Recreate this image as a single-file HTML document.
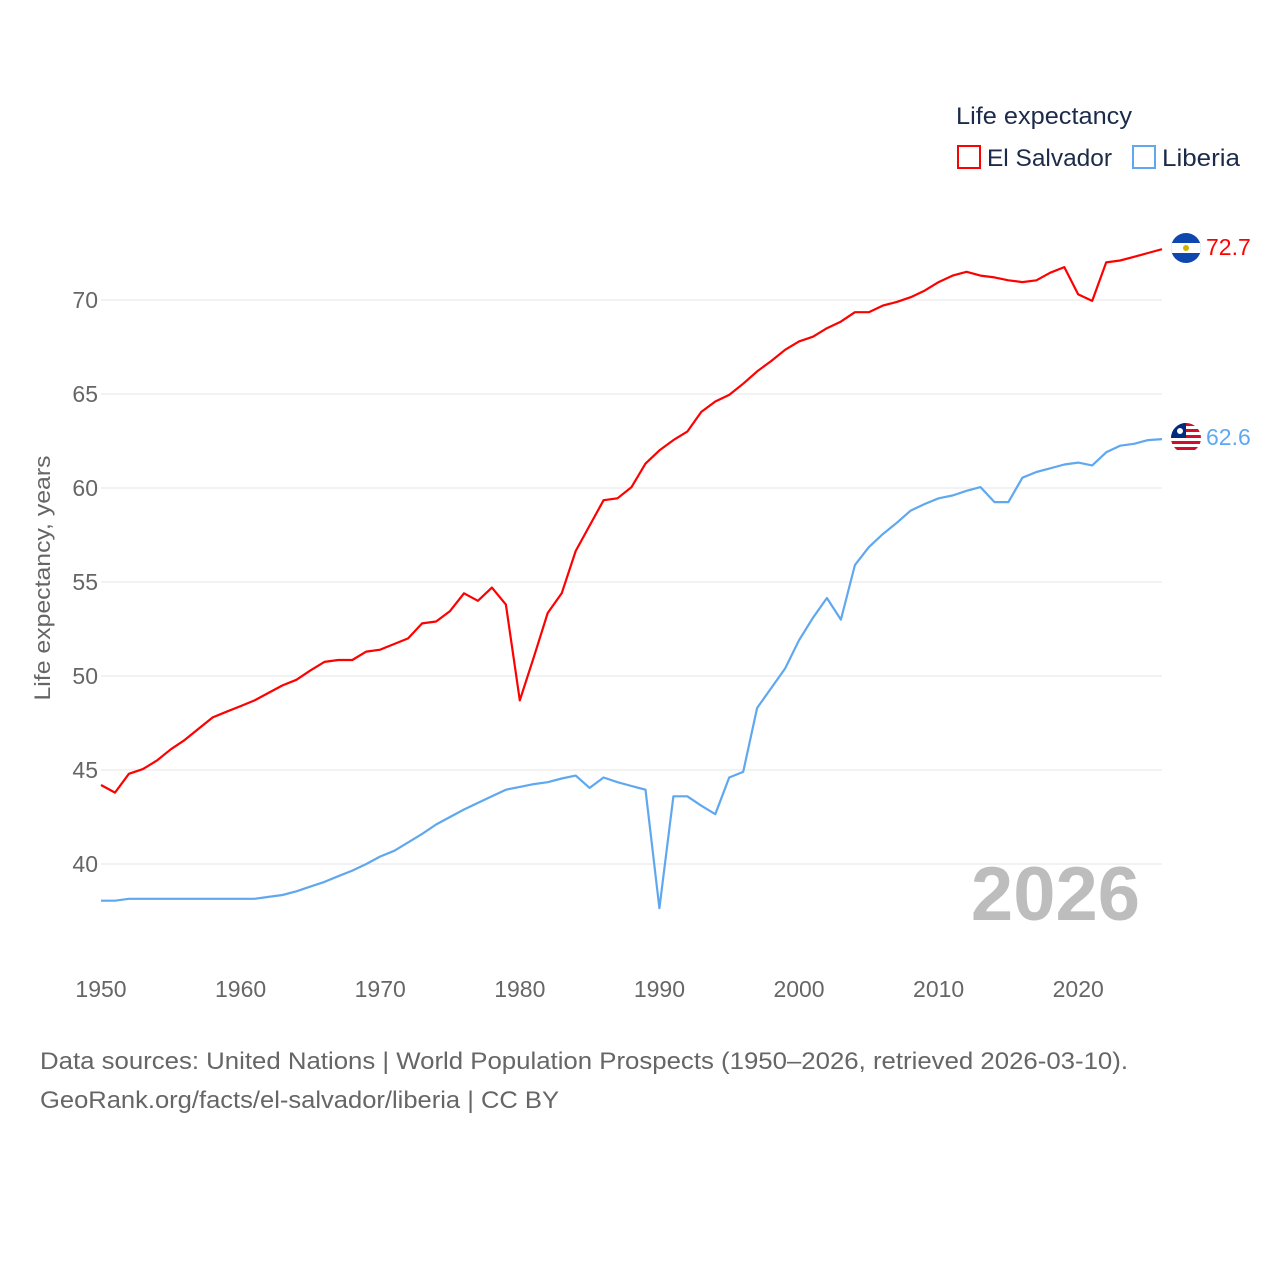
<!DOCTYPE html>
<html><head><meta charset="utf-8"><style>
body{margin:0;background:#fff;font-family:"Liberation Sans",sans-serif;}
svg text{font-family:"Liberation Sans",sans-serif;}
</style></head><body>
<svg id="chart" width="1280" height="1280" viewBox="0 0 1280 1280" xmlns="http://www.w3.org/2000/svg">
<rect width="1280" height="1280" fill="#fff"/>
<g id="grid"></g>
<g id="yticks"></g>
<g id="xticks"></g>
<text x="50" y="578" transform="rotate(-90 50 578)" text-anchor="middle" font-size="22" fill="#666" textLength="245" lengthAdjust="spacingAndGlyphs">Life expectancy, years</text>
<text x="1140" y="920" text-anchor="end" font-size="76" font-weight="bold" fill="#bdbdbd">2026</text>
<g id="series"></g>
<g>
<text x="956" y="124" font-size="24" fill="#1d2b4a" textLength="176" lengthAdjust="spacingAndGlyphs">Life expectancy</text>
<g><rect x="958" y="146" width="22" height="22" fill="none" stroke="#ff0000" stroke-width="2"/><text x="987" y="166" font-size="24" fill="#1d2b4a" textLength="125" lengthAdjust="spacingAndGlyphs">El Salvador</text></g>
<g><rect x="1133" y="146" width="22" height="22" fill="none" stroke="#5fa8ef" stroke-width="2"/><text x="1162" y="166" font-size="24" fill="#1d2b4a" textLength="78" lengthAdjust="spacingAndGlyphs">Liberia</text></g>
</g>
<g>
<clipPath id="c1"><circle cx="1186" cy="248" r="15"/></clipPath>
<g clip-path="url(#c1)"><rect x="1170" y="232" width="32" height="32" fill="#0f47af"/><rect x="1170" y="243" width="32" height="10" fill="#fff"/><circle cx="1186" cy="248" r="3" fill="#d4b000"/></g>
</g>
<text x="1206" y="255" font-size="23" fill="#ff0000">72.7</text>
<g>
<clipPath id="c2"><circle cx="1186" cy="438" r="15"/></clipPath>
<g clip-path="url(#c2)"><rect x="1170" y="422" width="32" height="32" fill="#fff"/>
<rect x="1170" y="423" width="32" height="3" fill="#d0102a"/><rect x="1170" y="429" width="32" height="3" fill="#d0102a"/><rect x="1170" y="435" width="32" height="3" fill="#d0102a"/><rect x="1170" y="441" width="32" height="3" fill="#d0102a"/><rect x="1170" y="447" width="32" height="3" fill="#d0102a"/><rect x="1170" y="453" width="32" height="3" fill="#d0102a"/>
<rect x="1170" y="422" width="16" height="16" fill="#002b7f"/><circle cx="1180" cy="431" r="3" fill="#fff"/></g>
</g>
<text x="1206" y="445" font-size="23" fill="#5fa8ef">62.6</text>
<text x="40" y="1069" font-size="24" fill="#666" textLength="1088" lengthAdjust="spacingAndGlyphs">Data sources: United Nations | World Population Prospects (1950–2026, retrieved 2026-03-10).</text>
<text x="40" y="1108" font-size="24" fill="#666" textLength="519" lengthAdjust="spacingAndGlyphs">GeoRank.org/facts/el-salvador/liberia | CC BY</text>
</svg>
<script>
const years=[];for(let y=1950;y<=2026;y++)years.push(y);
const elSalvador=[44.2,43.8,44.8,45.05,45.5,46.1,46.6,47.2,47.8,48.1,48.4,48.7,49.1,49.5,49.8,50.3,50.75,50.85,50.85,51.3,51.4,51.7,52.0,52.8,52.9,53.45,54.4,54.0,54.7,53.8,48.7,51.0,53.35,54.4,56.65,58.0,59.35,59.45,60.05,61.3,62.0,62.55,63.0,64.05,64.6,64.95,65.55,66.2,66.75,67.35,67.8,68.05,68.5,68.85,69.35,69.35,69.7,69.9,70.15,70.5,70.95,71.3,71.5,71.3,71.2,71.05,70.95,71.05,71.45,71.75,70.3,69.95,72.0,72.1,72.3,72.5,72.7];
const liberia=[38.05,38.05,38.15,38.15,38.15,38.15,38.15,38.15,38.15,38.15,38.15,38.15,38.25,38.35,38.55,38.8,39.05,39.35,39.65,40.0,40.4,40.7,41.15,41.6,42.1,42.5,42.9,43.25,43.6,43.95,44.1,44.25,44.35,44.55,44.7,44.05,44.6,44.35,44.15,43.95,37.65,43.6,43.6,43.1,42.65,44.6,44.9,48.3,49.35,50.4,51.9,53.1,54.15,53.0,55.9,56.85,57.55,58.15,58.8,59.15,59.45,59.6,59.85,60.05,59.25,59.25,60.55,60.85,61.05,61.25,61.35,61.2,61.9,62.25,62.35,62.55,62.6];
const yTicks=[40,45,50,55,60,65,70];
const xTicks=[1950,1960,1970,1980,1990,2000,2010,2020];
const NS="http://www.w3.org/2000/svg";
function xs(y){return 101+(y-1950)*(1162-101)/76;}
function ys(v){return 864-(v-40)*18.8;}
const grid=document.getElementById('grid'),yt=document.getElementById('yticks'),xt=document.getElementById('xticks'),ser=document.getElementById('series');
yTicks.forEach(v=>{
 const l=document.createElementNS(NS,'line');
 
 
 l.setAttribute('x1',101);l.setAttribute('x2',1162);l.setAttribute('y1',ys(v));l.setAttribute('y2',ys(v));l.setAttribute('stroke','#e6e6e6');l.setAttribute('stroke-width','1');
 grid.appendChild(l);
 const t=document.createElementNS(NS,'text');
 
 
 t.setAttribute('x',98);t.setAttribute('y',ys(v)+8);t.setAttribute('text-anchor','end');t.setAttribute('font-size','23');t.setAttribute('fill','#666');t.textContent=v;
 yt.appendChild(t);
});
xTicks.forEach(v=>{
 const t=document.createElementNS(NS,'text');
 
 
 t.setAttribute('x',xs(v));t.setAttribute('y',997);t.setAttribute('text-anchor','middle');t.setAttribute('font-size','23');t.setAttribute('fill','#666');t.textContent=v;
 xt.appendChild(t);
});
function line(data,color,name){
 const p=document.createElementNS(NS,'polyline');
 
 
 p.setAttribute('points',data.map((v,i)=>xs(years[i]).toFixed(1)+','+ys(v).toFixed(1)).join(' '));
 p.setAttribute('fill','none');p.setAttribute('stroke',color);p.setAttribute('stroke-width','2.2');p.setAttribute('stroke-linejoin','round');
 ser.appendChild(p);
}
line(liberia,'#5fa8ef','liberia-line');
line(elSalvador,'#ff0000','el-salvador-line');
</script>
</body></html>
